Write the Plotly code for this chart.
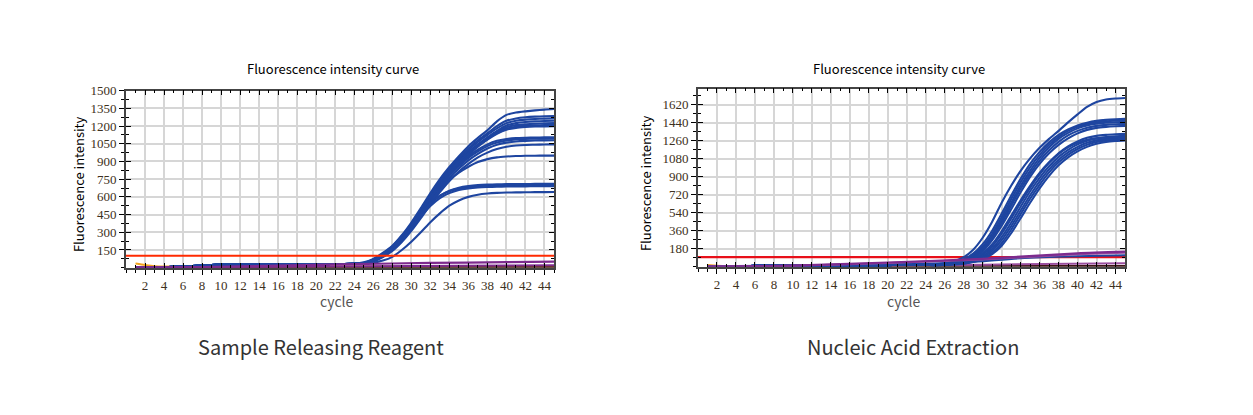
import plotly.graph_objects as go

W, H = 1253, 415
# page offset compensation (browser places the figure slightly right/down)
OFF_X, OFF_Y = 7, 12

cycles = list(range(1, 46))

# ---------------- Left chart: Sample Releasing Reagent ----------------
left_baseline = [3, 3, 4, 5, 7, 10, 14, 18, 22, 25, 27, 28, 28, 29, 29, 29, 29, 30, 30, 30, 30, 31, 31, 33]
# amplified curves, cycles 25..45
L01 = [45, 75, 125, 186, 275, 383, 505, 633, 750, 853, 945, 1030, 1100, 1165, 1240, 1295, 1315, 1325, 1333, 1340, 1345]
L02 = [40, 68, 115, 175, 262, 368, 490, 615, 735, 840, 930, 1010, 1080, 1140, 1200, 1245, 1265, 1275, 1280, 1283, 1285]
L03 = [38, 62, 105, 165, 250, 355, 475, 600, 720, 825, 915, 995, 1065, 1125, 1180, 1225, 1245, 1255, 1260, 1263, 1265]
L04 = [42, 70, 118, 180, 268, 372, 492, 612, 725, 822, 905, 980, 1045, 1105, 1160, 1205, 1225, 1235, 1240, 1243, 1245]
L05 = [35, 58, 98, 155, 235, 335, 452, 575, 692, 800, 892, 972, 1040, 1100, 1150, 1190, 1208, 1215, 1220, 1223, 1225]
L06 = [38, 64, 108, 168, 252, 355, 470, 590, 705, 808, 895, 970, 1035, 1090, 1140, 1178, 1195, 1202, 1206, 1208, 1210]
L07 = [33, 55, 92, 148, 225, 322, 435, 558, 675, 785, 875, 955, 1025, 1085, 1135, 1170, 1185, 1192, 1196, 1198, 1200]
L08 = [40, 66, 112, 172, 255, 358, 472, 590, 700, 795, 875, 945, 1000, 1045, 1075, 1090, 1098, 1101, 1103, 1104, 1105]
L09 = [36, 60, 100, 158, 240, 340, 455, 572, 683, 780, 860, 930, 985, 1030, 1060, 1078, 1087, 1091, 1093, 1094, 1095]
L10 = [34, 56, 95, 150, 230, 328, 440, 555, 665, 760, 840, 910, 965, 1010, 1042, 1060, 1070, 1075, 1078, 1079, 1080]
L11 = [33, 53, 90, 142, 218, 312, 420, 535, 640, 735, 815, 880, 935, 975, 1005, 1025, 1035, 1040, 1042, 1044, 1045]
L12 = [36, 60, 100, 158, 238, 335, 445, 555, 655, 740, 805, 855, 895, 920, 935, 942, 946, 948, 949, 950, 950]
L13 = [38, 64, 108, 168, 250, 345, 445, 538, 608, 652, 678, 692, 700, 704, 706, 708, 709, 709, 710, 710, 710]
L14 = [40, 68, 115, 178, 262, 358, 455, 545, 610, 648, 670, 683, 690, 694, 696, 698, 699, 699, 700, 700, 700]
L15 = [35, 60, 102, 160, 240, 335, 432, 522, 590, 632, 658, 672, 680, 684, 686, 688, 689, 689, 690, 690, 690]
L16 = [34, 42, 60, 92, 150, 220, 300, 385, 460, 525, 570, 600, 618, 628, 634, 637, 638, 639, 640, 640, 641]
left_curves = [L01, L02, L03, L04, L05, L06, L07, L08, L09, L10, L11, L12, L13, L14, L15, L16]

left_purple_x = [1, 8, 16, 24, 32, 40, 45]
left_purple_y = [2, 5, 18, 30, 40, 47, 52]
left_purple2_x = [1, 10, 20, 30, 40, 45]
left_purple2_y = [1, 4, 9, 14, 18, 20]
left_dark_x = [1, 45]
left_dark_y = [3, 4]
left_orange_x = [1, 2, 3, 4, 6, 10, 20, 30, 45]
left_orange_y = [35, 22, 12, 9, 10, 9, 9, 10, 12]
left_threshold = 100

# ---------------- Right chart: Nucleic Acid Extraction ----------------
right_baseline = [3, 4, 5, 6, 7, 8, 9, 10, 11, 11, 12, 12, 13, 13, 14, 14, 15, 15, 16, 16, 17, 17, 18, 18]
R01 = [25, 35, 55, 95, 170, 290, 450, 640, 810, 960, 1085, 1190, 1280, 1360, 1445, 1525, 1600, 1650, 1675, 1685, 1690]
R02 = [22, 30, 45, 75, 130, 225, 360, 530, 710, 880, 1030, 1150, 1245, 1320, 1375, 1415, 1442, 1460, 1470, 1476, 1480]
R03 = [20, 28, 40, 65, 115, 200, 330, 495, 675, 845, 995, 1120, 1220, 1300, 1360, 1400, 1428, 1445, 1455, 1461, 1465]
R04 = [20, 27, 38, 60, 105, 185, 305, 465, 640, 810, 960, 1090, 1195, 1280, 1340, 1385, 1415, 1432, 1442, 1447, 1450]
R05 = [19, 25, 35, 55, 95, 170, 285, 440, 610, 780, 930, 1060, 1165, 1250, 1315, 1360, 1392, 1410, 1420, 1426, 1430]
R06 = [18, 24, 33, 50, 88, 155, 265, 410, 575, 745, 900, 1030, 1135, 1220, 1285, 1335, 1370, 1390, 1400, 1406, 1410]
R07 = [17, 22, 30, 42, 70, 120, 205, 330, 480, 640, 790, 925, 1040, 1135, 1205, 1255, 1290, 1310, 1320, 1326, 1330]
R08 = [16, 21, 28, 38, 62, 105, 180, 295, 440, 600, 755, 890, 1005, 1100, 1170, 1225, 1262, 1285, 1298, 1305, 1310]
R09 = [16, 20, 26, 35, 55, 92, 160, 265, 405, 560, 715, 855, 975, 1070, 1145, 1200, 1240, 1265, 1280, 1290, 1295]
R10 = [15, 19, 25, 33, 50, 82, 140, 235, 370, 525, 680, 820, 945, 1045, 1120, 1178, 1220, 1248, 1265, 1275, 1280]
R11 = [15, 18, 24, 31, 46, 75, 125, 210, 335, 485, 640, 785, 910, 1015, 1095, 1155, 1200, 1230, 1250, 1260, 1265]
R12 = [16, 22, 30, 45, 78, 135, 225, 355, 510, 665, 810, 940, 1045, 1130, 1195, 1240, 1270, 1285, 1293, 1297, 1300]
right_curves = [R01, R02, R03, R04, R05, R06, R07, R08, R09, R10, R11, R12]

right_blue_flat_x = [1, 10, 20, 28, 34, 40, 45]
right_blue_flat_y = [3, 12, 25, 42, 85, 105, 115]
right_purple_x = [1, 10, 20, 30, 40, 45]
right_purple_y = [2, 10, 42, 78, 134, 150]
right_purple2_x = [1, 10, 20, 30, 40, 45]
right_purple2_y = [2, 9, 38, 72, 125, 140]
right_purple3_x = [1, 20, 30, 45]
right_purple3_y = [2, 12, 20, 35]
right_dark_x = [1, 45]
right_dark_y = [2, 8]
right_orange_x = [1, 2, 3, 4, 8]
right_orange_y = [16, 9, 4, 3, 3]
right_threshold = 95

x_tick_vals = list(range(2, 45, 2))
x_tick_text = [str(v) for v in x_tick_vals]
left_y_ticks = [150, 300, 450, 600, 750, 900, 1050, 1200, 1350, 1500]
right_y_ticks = [180, 360, 540, 720, 900, 1080, 1260, 1440, 1620]
left_y_range = [0, 1500]
right_y_range = [0, 1782]
x_range = [0, 45]

BLUE = "#1e45a0"
PURPLE = "#7d2b8e"
PURPLE2 = "#9a4f9f"
DARK = "#3b1414"
ORANGE = "#f2a31c"

fig = go.Figure()


def line(x, y, color, width, xa, ya, shape="spline"):
    fig.add_trace(go.Scatter(x=x, y=y, mode="lines", xaxis=xa, yaxis=ya,
                             line=dict(color=color, width=width, shape=shape, smoothing=0.6),
                             hoverinfo="skip", showlegend=False))


LW = 2.1

# left
line(left_orange_x, left_orange_y, ORANGE, 2, "x", "y")
line(left_dark_x, left_dark_y, DARK, 2, "x", "y", "linear")
for c in left_curves:
    line(cycles, left_baseline + c, BLUE, LW, "x", "y")
line(left_purple2_x, left_purple2_y, PURPLE, 2, "x", "y")
line(left_purple_x, left_purple_y, PURPLE, 2.2, "x", "y")
line(x_range, [left_threshold, left_threshold], "#ff2a00", 2, "x", "y", "linear")

# right
line(right_orange_x, right_orange_y, ORANGE, 2, "x2", "y2")
line(right_dark_x, right_dark_y, DARK, 2, "x2", "y2", "linear")
line(right_purple3_x, right_purple3_y, PURPLE2, 2, "x2", "y2")
line(x_range, [right_threshold, right_threshold], "#e8101a", 2.2, "x2", "y2", "linear")
line(right_blue_flat_x, right_blue_flat_y, BLUE, LW, "x2", "y2")
for c in right_curves:
    line(cycles, right_baseline + c, BLUE, LW, "x2", "y2")
line(right_purple2_x, right_purple2_y, PURPLE2, 2, "x2", "y2")
line(right_purple_x, right_purple_y, PURPLE, 2.2, "x2", "y2")

# invisible traces for overlay axes
for xa, ya, yr in (("x3", "y3", left_y_range), ("x4", "y4", right_y_range)):
    fig.add_trace(go.Scatter(x=[0], y=[yr[0]], mode="markers", marker=dict(opacity=0),
                             xaxis=xa, yaxis=ya, hoverinfo="skip", showlegend=False))


def px_x(p):
    return (p - OFF_X) / W


def px_y(p):
    return 1 - (p - OFF_Y) / H


TICKFONT = dict(family="Liberation Serif", size=13, color="#3d3020")
GRID = "#d6d6d6"

dom_left_x = [px_x(125), px_x(553)]
dom_left_y = [px_y(269), px_y(89)]
dom_right_x = [px_x(697), px_x(1124)]
dom_right_y = [px_y(268), px_y(87)]


def main_x(domain, anchor):
    return dict(domain=domain, anchor=anchor, range=x_range, tickmode="array",
                tickvals=x_tick_vals, ticktext=x_tick_text, ticks="outside", ticklen=5,
                tickwidth=1, tickcolor="black", tickfont=TICKFONT, showline=True,
                linecolor="black", linewidth=2, showgrid=True, gridcolor=GRID, gridwidth=1.5,
                zeroline=False, fixedrange=True,
                minor=dict(dtick=1, tick0=0, ticks="outside", ticklen=3, tickcolor="black", showgrid=False))


def main_y(domain, anchor, yr, tv):
    return dict(domain=domain, anchor=anchor, range=yr, tickmode="array", tickvals=tv,
                ticktext=[str(v) for v in tv], ticks="outside", ticklen=5, tickwidth=1,
                tickcolor="black", tickfont=TICKFONT, showline=True, linecolor="black",
                linewidth=2, showgrid=True, gridcolor=GRID, gridwidth=1.5, zeroline=False,
                fixedrange=True,
                minor=dict(dtick=(tv[1] - tv[0]) / 2, tick0=0, ticks="outside", ticklen=3,
                           tickcolor="black", showgrid=False))


def over_x(domain, anchor, over):
    return dict(domain=domain, anchor=anchor, overlaying=over, range=x_range, tickmode="array",
                tickvals=x_tick_vals, ticks="inside", ticklen=5, tickcolor="black",
                showticklabels=False, showline=True, mirror="ticks", linecolor="#444",
                linewidth=1.5, showgrid=False, zeroline=False, fixedrange=True,
                minor=dict(dtick=1, tick0=0, ticks="inside", ticklen=3, tickcolor="black", showgrid=False))


def over_y(domain, anchor, over, yr, tv):
    return dict(domain=domain, anchor=anchor, overlaying=over, range=yr, tickmode="array",
                tickvals=tv, ticks="inside", ticklen=5, tickcolor="black", showticklabels=False,
                showline=True, mirror="ticks", linecolor="#444", linewidth=1.5, showgrid=False,
                zeroline=False, fixedrange=True,
                minor=dict(dtick=(tv[1] - tv[0]) / 2, tick0=0, ticks="inside", ticklen=3,
                           tickcolor="black", showgrid=False))


TITLE_FONT = "Noto Sans CJK SC"
annotations = []


def ann(text, x, y, size, color="black", angle=0):
    annotations.append(dict(text=text, x=px_x(x), y=px_y(y), xref="paper", yref="paper",
                            xanchor="center", yanchor="middle", showarrow=False, textangle=angle,
                            font=dict(family=TITLE_FONT, size=size, color=color)))


ann("Fluorescence intensity curve", 332, 66, 13)
ann("Fluorescence intensity curve", 898, 66, 13)
ann("Fluorescence intensity", 77, 184, 13, angle=-90)
ann("Fluorescence intensity", 644, 183, 13, angle=-90)
ann("cycle", 336, 303, 14, color="#555555")
ann("cycle", 903, 303, 14, color="#555555")
ann("Sample Releasing Reagent", 320, 349, 20, color="#333333")
ann("Nucleic Acid Extraction", 912, 349, 20, color="#333333")

fig.update_layout(
    width=W, height=H, margin=dict(l=0, r=0, t=0, b=0),
    paper_bgcolor="white", plot_bgcolor="white", showlegend=False,
    xaxis=main_x(dom_left_x, "y"),
    yaxis=main_y(dom_left_y, "x", left_y_range, left_y_ticks),
    xaxis2=main_x(dom_right_x, "y2"),
    yaxis2=main_y(dom_right_y, "x2", right_y_range, right_y_ticks),
    xaxis3=over_x(dom_left_x, "y3", "x"),
    yaxis3=over_y(dom_left_y, "x3", "y", left_y_range, left_y_ticks),
    xaxis4=over_x(dom_right_x, "y4", "x2"),
    yaxis4=over_y(dom_right_y, "x4", "y2", right_y_range, right_y_ticks),
    annotations=annotations,
)

fig.write_html("out.html", config={"displayModeBar": False})
